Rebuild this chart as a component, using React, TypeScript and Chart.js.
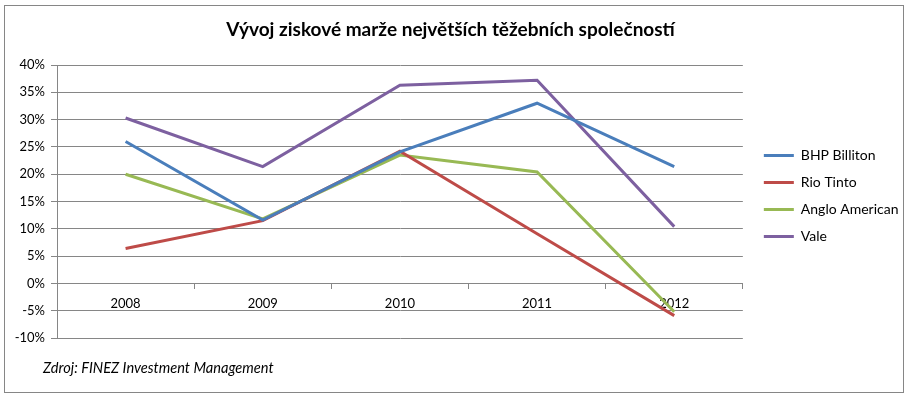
import React, { useEffect, useRef } from 'react';
import { Chart, registerables } from 'chart.js';

Chart.register(...registerables);

const categories = ['2008', '2009', '2010', '2011', '2012'];
const seriesNames = ['BHP Billiton', 'Rio Tinto', 'Anglo American', 'Vale'];
const bhp = [26.0, 11.6, 24.1, 33.0, 21.4];
const rio = [6.4, 11.5, 24.2, 9.1, -5.9];
const anglo = [20.0, 11.8, 23.5, 20.4, -5.2];
const vale = [30.3, 21.4, 36.3, 37.2, 10.4];
const seriesColors = ['#4A7EBB', '#BE4B48', '#98B954', '#7D60A0'];
const yMin = -10;
const yMax = 40;
const yStep = 5;
const titleText = 'Vývoj ziskové marže největších těžebních společností';
const sourceText = 'Zdroj: FINEZ Investment Management';

const FONT = 'Lato, "Open Sans", sans-serif';
const GRID = '#868686';

export default function App() {
  const ref = useRef<HTMLCanvasElement | null>(null);

  useEffect(() => {
    if (!ref.current) return;
    const values = [bhp, rio, anglo, vale];
    const chart = new Chart(ref.current, {
      type: 'line',
      data: {
        labels: categories,
        datasets: seriesNames.map((name, i) => ({
          label: name,
          data: values[i],
          borderColor: seriesColors[i],
          backgroundColor: seriesColors[i],
          borderWidth: 3,
          pointRadius: 0,
          pointHoverRadius: 0,
          tension: 0,
          fill: false,
        })),
      },
      options: {
        responsive: false,
        animation: false,
        events: [],
        layout: { padding: { top: 0, left: 0, right: 10, bottom: 61 } },
        plugins: {
          title: {
            display: true,
            text: titleText,
            color: '#000',
            font: { family: FONT, size: 19, weight: 'bold', lineHeight: 1.2 },
            padding: { top: 18.6, bottom: 23.6 },
          },
          legend: {
            position: 'right',
            align: 'start',
            fullSize: false,
            title: {
              display: true,
              text: '',
              padding: { top: 0, bottom: 0 },
              font: { family: FONT, size: 10, lineHeight: '70.5px' },
            },
            labels: {
              boxWidth: 30,
              boxHeight: 3,
              padding: 13,
              color: '#000',
              font: { family: FONT, size: 14 },
              generateLabels: (c: any) =>
                (Chart.defaults.plugins.legend.labels as any)
                  .generateLabels(c)
                  .map((l: any) => ({ ...l, fillStyle: l.strokeStyle, lineWidth: 0 })),
            },
          },
          tooltip: { enabled: false },
        },
        scales: {
          x: {
            type: 'category',
            offset: true,
            position: { y: 0 } as any,
            grid: {
              display: true,
              drawOnChartArea: false,
              drawTicks: true,
              tickLength: 5,
              color: GRID,
              offset: true,
            },
            border: { display: true, color: GRID, width: 1 },
            ticks: {
              color: '#000',
              font: { family: FONT, size: 13 },
              padding: 8,
              maxRotation: 0,
              autoSkip: false,
            },
          },
          y: {
            type: 'linear',
            min: yMin,
            max: yMax,
            ticks: {
              stepSize: yStep,
              color: '#000',
              font: { family: FONT, size: 13 },
              padding: 6,
              callback: (v: any) => `${v}%`,
            },
            grid: { color: GRID, lineWidth: 1, drawTicks: true, tickLength: 6 },
            border: { display: true, color: GRID, width: 1 },
            afterFit: (s: any) => {
              s.width = 57;
            },
          },
          y2: {
            type: 'linear',
            position: 'right',
            display: true,
            grid: { display: false },
            border: { display: false },
            ticks: { display: false },
            afterFit: (s: any) => {
              s.width = 8;
            },
          },
        },
      },
    });
    return () => chart.destroy();
  }, []);

  return (
    <div style={{ position: 'absolute', left: 0, top: 0, width: 911, height: 399, background: '#fff' }}>
      <canvas ref={ref} width={911} height={399} style={{ position: 'absolute', left: 0, top: 0 }} />
      <div
        style={{
          position: 'absolute',
          left: 4,
          top: 5,
          width: 900,
          height: 388,
          boxSizing: 'border-box',
          border: `1px solid ${GRID}`,
          pointerEvents: 'none',
        }}
      />
      <div
        style={{
          position: 'absolute',
          left: 43,
          top: 359,
          fontFamily: FONT,
          fontStyle: 'italic',
          fontSize: 14.6,
          lineHeight: '18px',
          color: '#000',
          whiteSpace: 'nowrap',
        }}
      >
        {sourceText}
      </div>
    </div>
  );
}
